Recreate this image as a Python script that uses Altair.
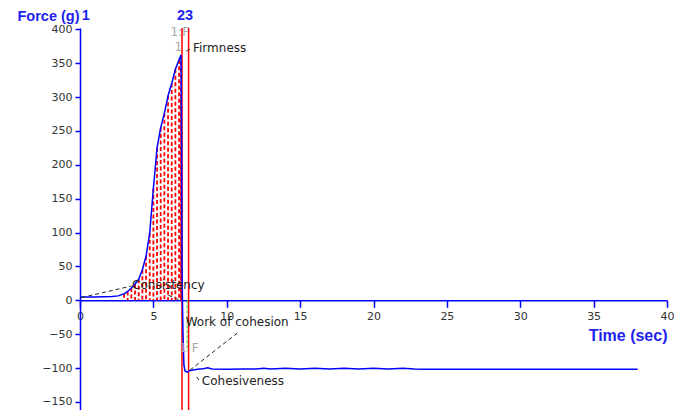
import altair as alt
import pandas as pd

# ---- data ----
time_s = [0, 1.0, 2.2, 2.6, 3.0, 3.25, 3.5, 3.75, 4.0, 4.25, 4.5, 4.75, 5.0, 5.25,
          5.5, 5.75, 6.0, 6.25, 6.5, 6.75, 6.88, 6.9, 6.92, 6.94, 6.96, 6.98, 7.02,
          7.08, 7.15, 7.3, 7.45, 7.7, 8.0, 8.4, 8.7, 9.0, 10, 11, 12, 12.5, 13, 14,
          15, 16, 17, 18, 19, 20, 21, 22, 22.8, 23.5, 30, 38]
force_g = [5, 5, 5.5, 6.5, 9.5, 13, 18, 24, 31, 45, 65, 99, 165, 225,
           255, 276, 302, 320, 341, 355, 362, 300, 240, 120, 40, 0, -50,
           -95, -104, -106, -104, -103, -102, -101, -99.5, -101.5, -102, -101.5, -101.5, -100.5, -101.5, -100.5,
           -101.5, -100.5, -101.5, -100.5, -101.5, -100.5, -101.5, -100.5, -101.5, -102, -102, -102]

marker_names = ["1", "2", "3"]
marker_label_x = [0.4, 6.88, 7.43]
marker_lines_x = [6.95, 7.4]

annot_text = ["Firmness", "Consistency", "Work of cohesion", "Cohesiveness"]
annot_x = [7.7, 3.55, 7.2, 8.3]
annot_y = [373, 22, -32, -119]

leader_x1 = [0.1, 6.02, 7.25, 7.5, 7.95]
leader_y1 = [4, 7.5, 368, -103, -113]
leader_x2 = [3.5, 6.81, 7.5, 10.8, 8.18]
leader_y2 = [21, 0, 371, -47, -120]

gray_text = ["1:F", "1", "1", "F"]
gray_x = [6.8, 6.7, 7.0, 7.85]
gray_y = [396, 374, -70, -70]

green_x = [7.3]
green_y1 = [0]
green_y2 = [-75]

x_ticks = [0, 5, 10, 15, 20, 25, 30, 35, 40]
y_ticks = [-150, -100, -50, 0, 50, 100, 150, 200, 250, 300, 350, 400]

# ---- tables ----
curve = pd.DataFrame({"t": time_s, "f": force_g})
hatch = curve[(curve.t >= 2.9) & (curve.t <= 6.9) & (curve.f > 0)]
markers = pd.DataFrame({"t": marker_lines_x})
marker_labels = pd.DataFrame({"t": marker_label_x, "name": marker_names})
annots = pd.DataFrame({"t": annot_x, "f": annot_y, "label": annot_text})
leaders = pd.DataFrame({"t": leader_x1, "f": leader_y1, "t2": leader_x2, "f2": leader_y2})
grays = pd.DataFrame({"t": gray_x, "f": gray_y, "label": gray_text})
green = pd.DataFrame({"t": green_x, "f": green_y1, "f2": green_y2})

BLUE = "#0000ff"
TITLE_BLUE = "#1f1fee"
W, H = 587, 382
ymin, ymax = -162, 402
zero_px = H * ymax / (ymax - ymin)

xscale = alt.Scale(domain=[0, 40], nice=False, zero=False)
yscale = alt.Scale(domain=[ymin, ymax], nice=False, zero=False)

xaxis = alt.Axis(values=x_ticks, offset=-(H - zero_px), grid=False,
                 domainColor=BLUE, domainWidth=1.5, tickColor=BLUE, tickWidth=1.5, tickSize=7,
                 labelColor="#333333", labelFont="DejaVu Sans", labelFontSize=11,
                 labelPadding=3, labelFlush=False,
                 title="Time (sec)", titleX=W, titleY=40, titleAlign="right",
                 titleBaseline="alphabetic", titleFont="Liberation Sans",
                 titleFontSize=16, titleFontWeight="bold", titleColor=TITLE_BLUE)
yaxis = alt.Axis(values=y_ticks, grid=False,
                 domainColor=BLUE, domainWidth=1.5, tickColor=BLUE, tickWidth=1.5, tickSize=5,
                 labelColor="#333333", labelFont="DejaVu Sans", labelFontSize=11,
                 labelPadding=3,
                 title="Force (g)", titleAngle=0, titleX=-1, titleY=-8, titleAlign="right",
                 titleBaseline="alphabetic", titleFont="Liberation Sans",
                 titleFontSize=14.5, titleFontWeight="bold", titleColor=TITLE_BLUE)


def X(field="t"):
    return alt.X(field, type="quantitative", scale=xscale, axis=xaxis)


def Y(field="f"):
    return alt.Y(field, type="quantitative", scale=yscale, axis=yaxis)


hatch_layer = alt.Chart(hatch).mark_rule(color="#ff0000", strokeWidth=1.8,
                                         strokeDash=[4, 2.5]).encode(
    x=X(), y=Y(), y2=alt.datum(0))

red_layer = alt.Chart(markers).mark_rule(color="#ff0000", strokeWidth=1.5).encode(x=X())

green_layer = alt.Chart(green).mark_rule(color="#33cc33", strokeWidth=1,
                                         strokeDash=[3, 2]).encode(
    x=X(), y=Y(), y2="f2:Q")

curve_layer = alt.Chart(curve).mark_line(color=BLUE, strokeWidth=1.5,
                                         interpolate="linear").encode(
    x=X(), y=Y(), order="t:Q")

leader_layer = alt.Chart(leaders).mark_rule(color="#222222", strokeWidth=1,
                                            strokeDash=[4, 3]).encode(
    x=X(), y=Y(), x2="t2:Q", y2="f2:Q")

annot_layer = alt.Chart(annots).mark_text(align="left", baseline="middle",
                                          font="DejaVu Sans", fontSize=12,
                                          color="#222222").encode(
    x=X(), y=Y(), text="label:N")

gray_layer = alt.Chart(grays).mark_text(align="center", baseline="middle",
                                        font="DejaVu Sans", fontSize=12,
                                        color="#aaaaaa").encode(
    x=X(), y=Y(), text="label:N")

marker_label_layer = alt.Chart(marker_labels).mark_text(
    align="center", baseline="alphabetic", font="Liberation Sans", fontSize=14.5,
    fontWeight="bold", color=TITLE_BLUE).encode(
    x=X(), y=alt.value(-8), text="name:N")

chart = alt.layer(
    hatch_layer, red_layer, green_layer, curve_layer, leader_layer,
    annot_layer, gray_layer, marker_label_layer
).properties(
    width=W, height=H,
    padding={"left": 72, "top": 20, "right": 12, "bottom": 0},
    autosize=alt.AutoSizeParams(type="none"),
    background="white",
).configure_view(stroke=None)

chart.save("out.html", embed_options={"renderer": "svg", "actions": False})
